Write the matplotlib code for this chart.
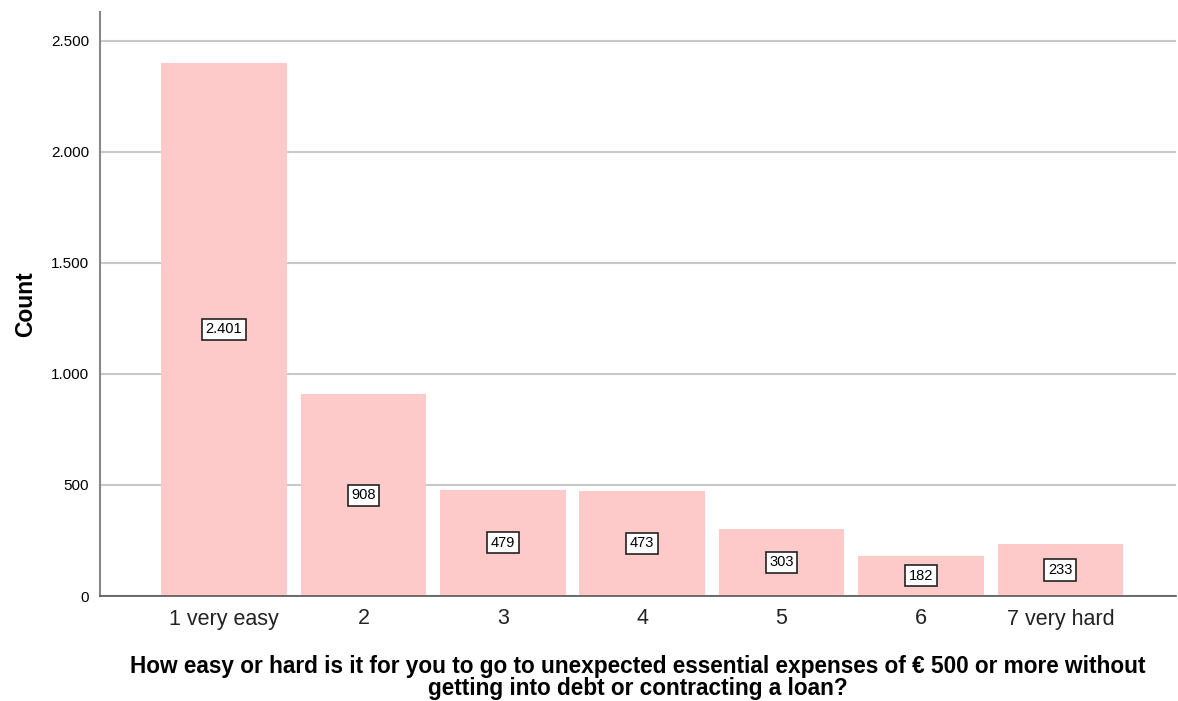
import matplotlib
matplotlib.use("Agg")
import matplotlib.pyplot as plt

categories = ["1 very easy", "2", "3", "4", "5", "6", "7 very hard"]
counts = [2401, 908, 479, 473, 303, 182, 233]
count_labels = ["2.401", "908", "479", "473", "303", "182", "233"]
yticks = [0, 500, 1000, 1500, 2000, 2500]
ytick_labels = ["0", "500", "1.000", "1.500", "2.000", "2.500"]

plt.rcParams['font.family'] = ['Liberation Sans', 'DejaVu Sans']

fig = plt.figure(figsize=(11.78, 7.01), dpi=100)
ax = fig.add_axes([100/1178, 1 - 596/701, 1076/1178, 584/701])

x = list(range(len(categories)))
bars = ax.bar(x, counts, width=0.9, color='#fec9c9', zorder=2)

for xi, c, lab in zip(x, counts, count_labels):
    ax.text(xi, c / 2, lab, ha='center', va='center', fontsize=10.5, zorder=3,
            bbox=dict(boxstyle='square,pad=0.25', facecolor='white', edgecolor='#222222', linewidth=1.2))

ax.set_xlim(-0.89, 6.83)
ax.set_ylim(0, 2630)
ax.set_yticks(yticks)
ax.set_yticklabels(ytick_labels, fontsize=11)
ax.set_xticks(x)
ax.set_xticklabels(categories, fontsize=15.5, color='#222222')
ax.tick_params(axis='y', length=0, pad=8)
ax.tick_params(axis='x', length=0, pad=9)
ax.yaxis.grid(True, color='#c8c8c8', linewidth=1.5, zorder=0)
ax.set_axisbelow(True)

for s in ['top', 'right']:
    ax.spines[s].set_visible(False)
ax.spines['left'].set_color('#888888')
ax.spines['left'].set_linewidth(1.5)
ax.spines['bottom'].set_color('#555555')
ax.spines['bottom'].set_linewidth(1.2)

ax.set_ylabel("Count", fontsize=16.5, fontweight='bold', labelpad=10)
ax.set_xlabel("How easy or hard is it for you to go to unexpected essential expenses of € 500 or more without\ngetting into debt or contracting a loan?",
              fontsize=16.3, fontweight='bold', labelpad=18, linespacing=0.95)

fig.savefig("out.png", dpi=100)
